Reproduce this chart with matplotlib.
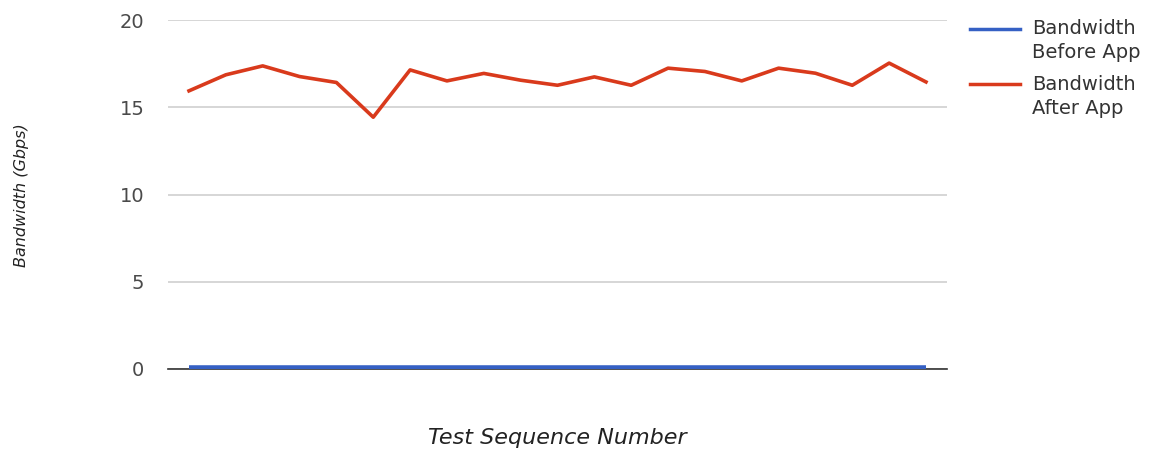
import matplotlib
matplotlib.use("Agg")
import matplotlib.pyplot as plt
from matplotlib.lines import Line2D
import numpy as np

tests = list(range(1, 22))
before_app = [0.05] * 21
after_app = [15.94, 16.86, 17.37, 16.76, 16.42, 14.43, 17.14, 16.51, 16.94, 16.55,
             16.26, 16.74, 16.26, 17.24, 17.05, 16.51, 17.24, 16.95, 16.26, 17.53, 16.45]
yticks = [0, 5, 10, 15, 20]
series_labels = ["Bandwidth\nBefore App", "Bandwidth\nAfter App"]
series_colors = ['#3560c4', '#d93a1c']

plt.rcParams['font.family'] = ['DejaVu Sans']

W, H = 1159, 450
fig = plt.figure(figsize=(W/100, H/100), dpi=100)
ax = fig.add_axes([168/W, 1 - 369/H, (947-168)/W, (369-20)/H])

x = np.array(tests)
ax.plot(x, before_app, color=series_colors[0], lw=4, solid_capstyle='butt', zorder=4)
ax.plot(x, after_app, color=series_colors[1], lw=2.6, solid_joinstyle='round', zorder=3)

ax.set_xlim(tests[0] - 0.57, tests[-1] + 0.57)
ax.set_ylim(0, 20)
ax.set_yticks(yticks)
ax.set_yticklabels([str(v) for v in yticks], fontsize=14, color='#4a4a4a')
ax.set_xticks([])
ax.tick_params(axis='y', length=0, pad=17)
for s in ['top', 'right', 'left']:
    ax.spines[s].set_visible(False)
ax.spines['bottom'].set_color('#333333')
ax.spines['bottom'].set_linewidth(1.2)
ax.spines['bottom'].set_zorder(2)
ax.yaxis.grid(True, color='#d0d0d0', lw=1.2)
ax.set_axisbelow(True)

fig.text(557/W, 1 - 438/H, 'Test Sequence Number', fontsize=16, style='italic',
         color='#222222', ha='center', va='center')
fig.text(22/W, 1 - 195/H, 'Bandwidth (Gbps)', fontsize=11.5, style='italic',
         color='#222222', ha='center', va='center', rotation=90)

# legend, handles aligned to first text line (Google Charts style)
entry_tops = [29, 84]
for lab, col, y0 in zip(series_labels, series_colors, entry_tops):
    fig.add_artist(Line2D([970/W, 1020/W], [1 - y0/H, 1 - y0/H], color=col, lw=2.5,
                          transform=fig.transFigure))
    for i, line in enumerate(lab.split('\n')):
        fig.text(1032/W, 1 - (y0 + 24*i)/H, line, fontsize=14, color='#333333',
                 ha='left', va='center')

fig.savefig('out.png', dpi=100)
